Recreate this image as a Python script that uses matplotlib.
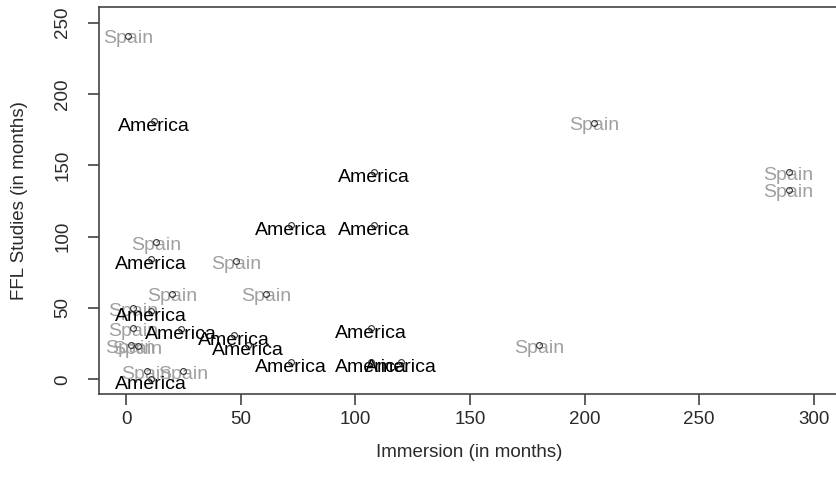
import matplotlib.pyplot as plt

plt.rcParams['font.family'] = ['Liberation Sans', 'DejaVu Sans']

# immersion vs. FFL study time, one row per learner
america_x = [12, 108, 72, 108, 11, 11, 24, 47, 53, 107, 72, 107, 120, 11]
america_y = [181, 145, 108, 108, 84, 48, 35, 31, 24, 36, 12, 12, 12, 0]

spain_x = [1, 13, 48, 20, 61, 204, 289, 289, 180, 3, 3, 2, 5, 9, 25]
spain_y = [241, 96, 83, 60, 60, 180, 145, 133, 24, 50, 36, 24, 23, 6, 6]

x_ticks = [0, 50, 100, 150, 200, 250, 300]
y_ticks = [0, 50, 100, 150, 200, 250]

W, H = 837, 493
fig = plt.figure(figsize=(W / 100, H / 100), dpi=100)
# plot region runs slightly past the right edge of the canvas
ax = fig.add_axes([99 / W, (H - 394) / H, (839 - 99) / W, (394 - 7) / H])

ax.set_xlim(-11.8, 311)
ax.set_ylim(-10.3, 261)

for x, y in zip(spain_x, spain_y):
    ax.annotate('Spain', (x, y), xytext=(0, -5.6), textcoords='offset points',
                ha='center', va='baseline', fontsize=14, color='#a0a0a0')
for x, y in zip(america_x, america_y):
    ax.annotate('America', (x, y), xytext=(0, -7.2), textcoords='offset points',
                ha='center', va='baseline', fontsize=14, color='#000000')

ax.plot(spain_x + america_x, spain_y + america_y, 'o', ms=4.2, mfc='none',
        mec='#333333', mew=0.8, zorder=5)

ax.set_xticks(x_ticks)
ax.set_yticks(y_ticks)
ax.set_yticklabels([str(v) for v in y_ticks], rotation=90, va='center')
ax.tick_params(axis='both', direction='out', length=8, width=1.1,
               color='#333333', labelsize=13.5, labelcolor='#2a2a2a')
ax.tick_params(axis='x', pad=4)
ax.tick_params(axis='y', pad=12)

for s in ax.spines.values():
    s.set_color('#444444')
    s.set_linewidth(1.2)

ax.set_xlabel('Immersion (in months)', fontsize=13.5, color='#2a2a2a', labelpad=12)
ax.set_ylabel('FFL Studies (in months)', fontsize=13.5, color='#2a2a2a', labelpad=19)

fig.savefig('out.png', dpi=100)
